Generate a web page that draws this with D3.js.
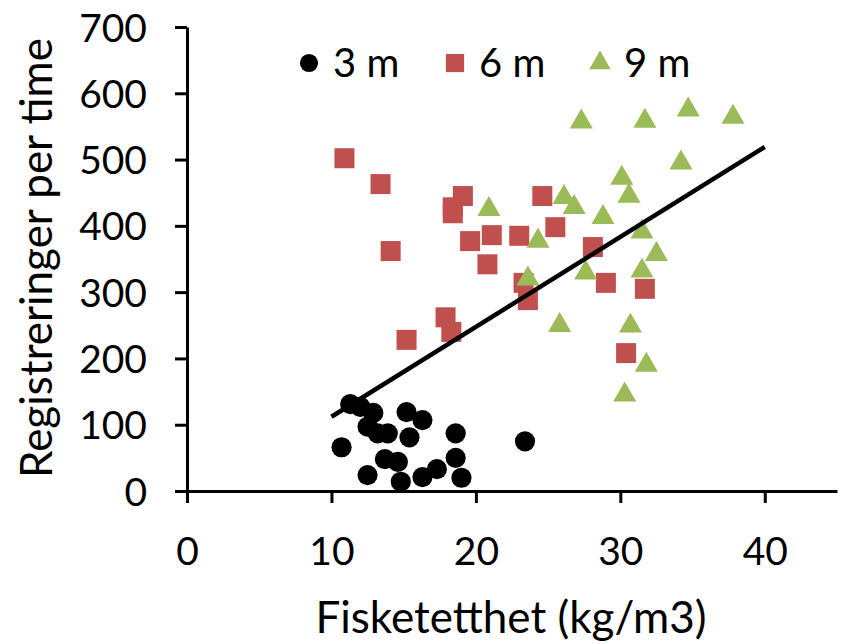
<!DOCTYPE html>
<html><head><meta charset="utf-8">
<script src="https://cdn.jsdelivr.net/npm/d3@7"></script>
<style>body{margin:0;background:#fff;} svg{display:block;font-family:Lato,"Noto Sans",sans-serif;}</style>
</head><body>
<svg id="c" width="844" height="644"></svg>
<script>
const xTicks = [0, 10, 20, 30, 40];
const yTicks = [0, 100, 200, 300, 400, 500, 600, 700];
const seriesNames = ["3 m", "6 m", "9 m"];
const s3x = [11.3,12.0,12.9,12.5,13.2,13.9,15.2,16.3,15.4,18.6,23.4,10.7,13.7,14.6,18.6,17.3,16.3,12.5,14.8,19.0];
const s3y = [131,127,118,97,87,87,119,107,81,87,75,66,48,44,50,33,21,24,14,20];
const s6x = [10.9,13.4,19.1,18.4,18.4,14.1,19.6,21.1,23.0,24.6,25.5,20.8,23.3,23.6,28.1,29.0,17.9,18.3,15.2,31.7,30.4];
const s6y = [502,463,445,428,419,362,377,386,385,445,398,342,314,288,368,314,262,240,228,305,208];
const s9x = [27.3,31.7,34.7,37.8,34.2,30.1,30.6,26.1,26.8,20.9,28.8,31.5,24.3,32.5,27.6,31.5,23.6,25.8,30.7,31.8,30.3];
const s9y = [557,558,575,564,495,472,445,443,428,425,413,391,377,357,329,332,320,250,249,190,145];
const trendX = [10, 40];
const trendY = [112, 519];

const svg = d3.select("#c");
const x = d3.scaleLinear().domain([0, 45]).range([187, 837]);
const y = d3.scaleLinear().domain([0, 700]).range([491, 27]);
const font = 'Lato, "Noto Sans", sans-serif';

const xAxis = svg.append("g").attr("transform", `translate(0,${y(0)})`)
  .call(d3.axisBottom(x).tickValues(xTicks).tickSize(12).tickPadding(34).tickSizeOuter(0));
const yAxis = svg.append("g").attr("transform", `translate(${x(0)},0)`)
  .call(d3.axisLeft(y).tickValues(yTicks).tickSize(12).tickPadding(28).tickSizeOuter(0));
[xAxis, yAxis].forEach(g => {
  g.select(".domain").attr("stroke", "#000").attr("stroke-width", 3);
  g.selectAll(".tick line").attr("stroke", "#000").attr("stroke-width", 3);
  g.selectAll(".tick text").attr("fill", "#000").style("font-family", font).style("font-size", "39px");
});
yAxis.selectAll(".tick text").attr("dy", "0.36em");

const colors = ["#000000", "#C0504D", "#9BBB59"];
const sym = [d3.symbolCircle, d3.symbolSquare, d3.symbolTriangle];
const sizes = [320, 400, 230];
const series = [[s3x, s3y], [s6x, s6y], [s9x, s9y]];
series.forEach(([xs, ys], i) => {
  svg.append("g").selectAll("path").data(xs.map((v, j) => [v, ys[j]])).join("path")
    .attr("d", d3.symbol(sym[i], sizes[i]))
    .attr("transform", d => `translate(${x(d[0])},${y(d[1])})`)
    .attr("fill", colors[i]);
});

svg.append("path").datum(trendX.map((v, j) => [v, trendY[j]]))
  .attr("d", d3.line().x(d => x(d[0])).y(d => y(d[1])))
  .attr("stroke", "#000").attr("stroke-width", 4.5).attr("fill", "none");

// legend
const legX = [309, 455, 600];
const lg = svg.append("g");
seriesNames.forEach((n, i) => {
  lg.append("path").attr("d", d3.symbol(sym[i], [260, 330, 200][i]))
    .attr("transform", `translate(${legX[i]},63)`).attr("fill", colors[i]);
  lg.append("text").attr("x", legX[i] + 24).attr("y", 63).attr("dy", "0.36em")
    .style("font-family", font).style("font-size", "40px").text(n);
});

svg.append("text").attr("x", 511).attr("y", 633).attr("text-anchor", "middle")
  .style("font-family", font).style("font-size", "44px").text("Fisketetthet (kg/m3)");
svg.append("text").attr("transform", `translate(52,258) rotate(-90)`).attr("text-anchor", "middle")
  .style("font-family", font).style("font-size", "44px").text("Registreringer per time");
</script>
</body></html>
